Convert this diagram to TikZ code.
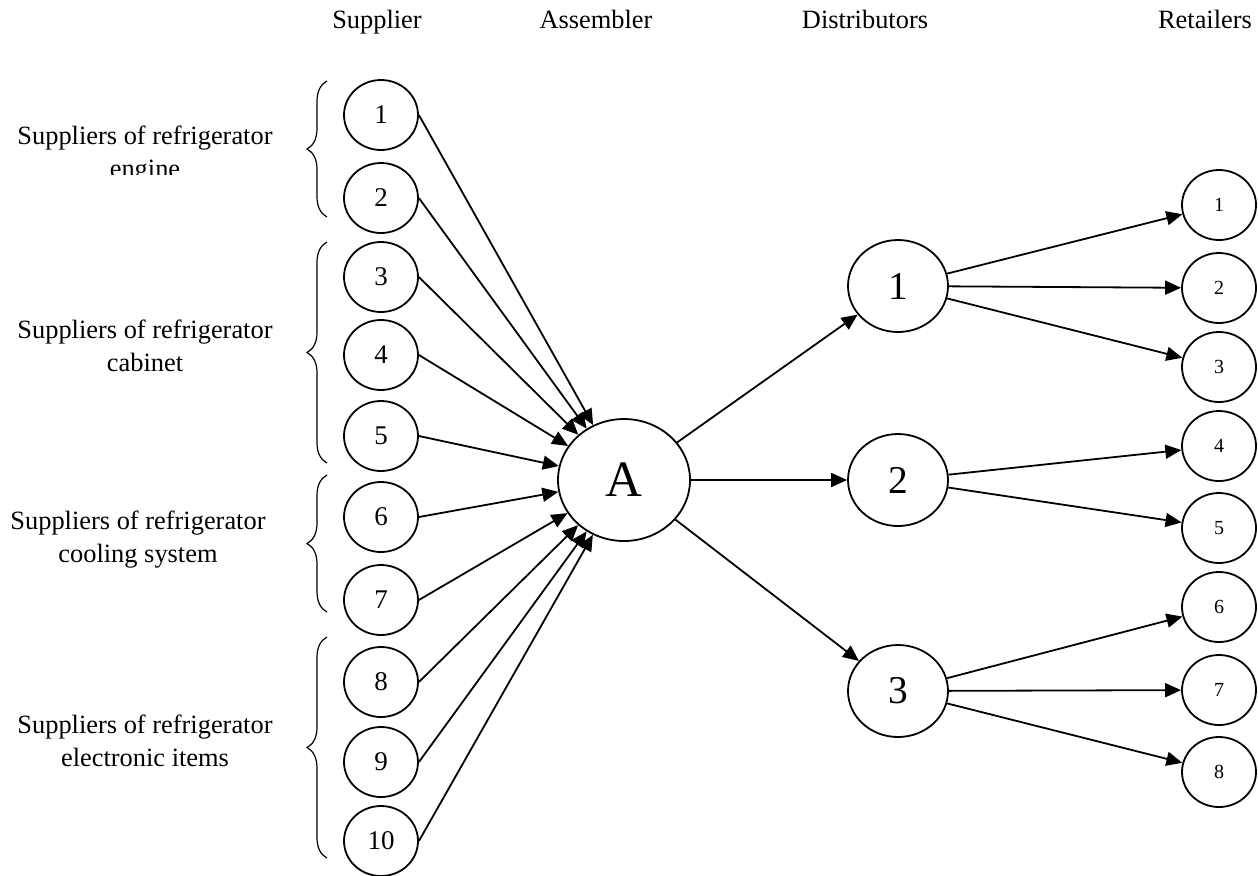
\documentclass[tikz,border=0pt]{standalone}
\usepackage{fontspec}
\setmainfont{Liberation Serif}
\usetikzlibrary{arrows.meta,decorations.pathreplacing,shapes.geometric}

\begin{document}
\begin{tikzpicture}[x=0.5pt, y=-0.5pt,
    supplier/.style={draw, ellipse, line width=0.9pt, minimum width=37pt, minimum height=35pt, inner sep=0pt, font=\fontsize{13.5}{16}\selectfont},
    assembler/.style={draw, ellipse, line width=0.9pt, minimum width=66pt, minimum height=61pt, inner sep=0pt, font=\fontsize{25.5}{30}\selectfont},
    distributor/.style={draw, ellipse, line width=0.9pt, minimum width=50pt, minimum height=46pt, inner sep=0pt, font=\fontsize{19.7}{24}\selectfont},
    retailer/.style={draw, ellipse, line width=0.9pt, minimum width=37pt, minimum height=35pt, inner sep=0pt, font=\fontsize{10}{12}\selectfont},
    header/.style={anchor=base, font=\fontsize{13.2}{16.5}\selectfont},
    grouplabel/.style={align=center, font=\fontsize{13.2}{16.5}\selectfont},
    group/.style={decorate, decoration={brace, amplitude=10pt}, line width=0.6pt},
    link/.style={-{Triangle[length=8pt,width=7pt]}, line width=0.9pt}]
    \useasboundingbox (0,0) rectangle (1258,875);

    % Column headers
    \node[header] (hsupplier) at (377,28) {Supplier};
    \node[header] (hassembler) at (596,28) {Assembler};
    \node[header] (hdistributors) at (865,28) {Distributors};
    \node[header] (hretailers) at (1205,28) {Retailers};

    % Supplier groups
    \begin{scope}
        \clip (0,60) rectangle (300,174);
        \node[grouplabel] (lab1) at (145,155) {Suppliers of refrigerator\\engine};
    \end{scope}
    \node[grouplabel] (lab2) at (145,346) {Suppliers of refrigerator\\cabinet};
    \node[grouplabel] (lab3) at (138,540) {Suppliers of refrigerator\\cooling system};
    \node[grouplabel] (lab4) at (145,741) {Suppliers of refrigerator\\electronic items};

    \draw[group] (327,217) -- (327,81);
    \draw[group] (327,463) -- (327,242);
    \draw[group] (327,612) -- (327,475);
    \draw[group] (327,858) -- (327,637);

    % Suppliers
    \node[supplier] (s1) at (381,115) {1};
    \node[supplier] (s2) at (381,198) {2};
    \node[supplier] (s3) at (381,277) {3};
    \node[supplier] (s4) at (381,355) {4};
    \node[supplier] (s5) at (381,436) {5};
    \node[supplier] (s6) at (381,517) {6};
    \node[supplier] (s7) at (381,600) {7};
    \node[supplier] (s8) at (381,682) {8};
    \node[supplier] (s9) at (381,762) {9};
    \node[supplier] (s10) at (381,841) {10};

    % Assembler
    \node[assembler] (asm) at (624,480) {A};

    % Distributors
    \node[distributor] (d1) at (898,286) {1};
    \node[distributor] (d2) at (898,480) {2};
    \node[distributor] (d3) at (898,691) {3};

    % Retailers
    \node[retailer] (r1) at (1219,205) {1};
    \node[retailer] (r2) at (1219,288) {2};
    \node[retailer] (r3) at (1219,367) {3};
    \node[retailer] (r4) at (1219,446) {4};
    \node[retailer] (r5) at (1219,528) {5};
    \node[retailer] (r6) at (1219,607) {6};
    \node[retailer] (r7) at (1219,690) {7};
    \node[retailer] (r8) at (1219,772) {8};

    % Suppliers to assembler
    \draw[link] (s1.east) -- (asm);
    \draw[link] (s2.east) -- (asm);
    \draw[link] (s3.east) -- (asm);
    \draw[link] (s4.east) -- (asm);
    \draw[link] (s5.east) -- (asm);
    \draw[link] (s6.east) -- (asm);
    \draw[link] (s7.east) -- (asm);
    \draw[link] (s8.east) -- (asm);
    \draw[link] (s9.east) -- (asm);
    \draw[link] (s10.east) -- (asm);

    % Assembler to distributors
    \draw[link] (asm) -- (d1);
    \draw[link] (asm) -- (d2);
    \draw[link] (asm) -- (d3);

    % Distributors to retailers
    \draw[link] (d1) -- (r1);
    \draw[link] (d1) -- (r2);
    \draw[link] (d1) -- (r3);
    \draw[link] (d2) -- (r4);
    \draw[link] (d2) -- (r5);
    \draw[link] (d3) -- (r6);
    \draw[link] (d3) -- (r7);
    \draw[link] (d3) -- (r8);
\end{tikzpicture}
\end{document}
